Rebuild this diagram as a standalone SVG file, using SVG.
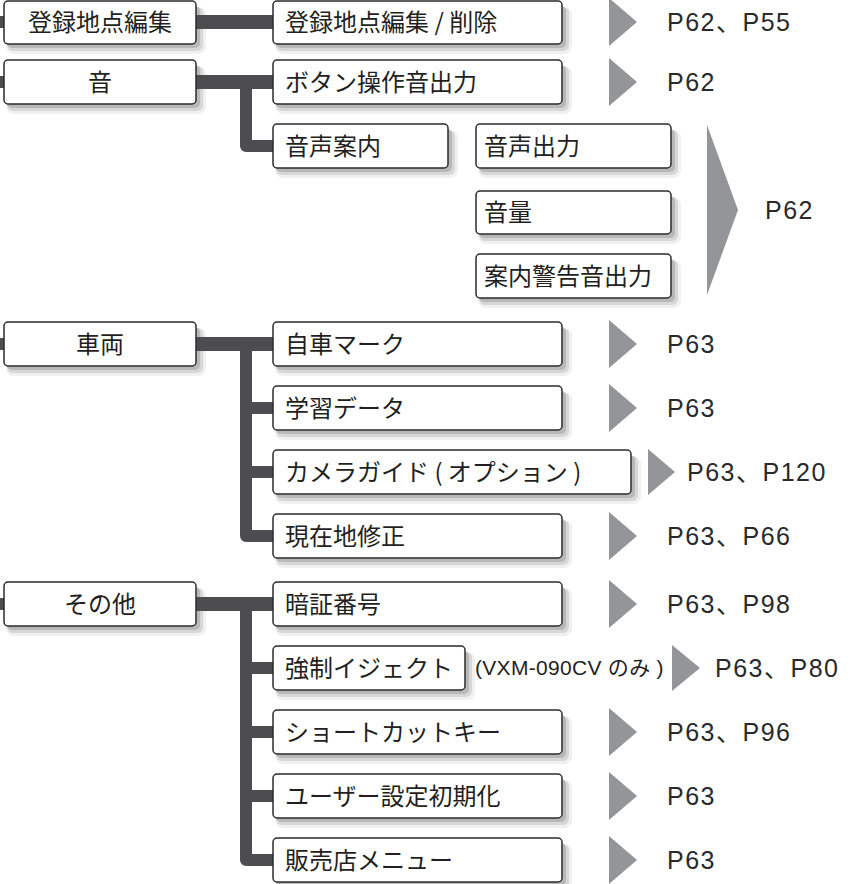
<svg xmlns="http://www.w3.org/2000/svg" width="848" height="884" viewBox="0 0 848 884">
<defs>
<style>
.box{fill:#fff;stroke:#2b2b2b;stroke-width:1.5}
.s1{fill:#000;opacity:0.14}
.s2{fill:#000;opacity:0.10}
.s3{fill:#000;opacity:0.06}
.lbl{font-family:"Noto Sans CJK JP","Noto Sans",sans-serif;font-size:24px;fill:#231f20}
.mid{text-anchor:middle}
.ref{font-family:"Liberation Sans","Noto Sans CJK JP",sans-serif;font-size:25px;letter-spacing:1.5px;fill:#2a2a2a}
.note{font-family:"Liberation Sans","Noto Sans CJK JP",sans-serif;font-size:21px;letter-spacing:0.3px;fill:#231f20}
.tri{fill:#939598}
.con{fill:none;stroke:#4d4d4f;stroke-linejoin:round;stroke-linecap:butt}
</style>
</defs>
<rect width="848" height="884" fill="#fff"/>

<g id="shadows">
<g transform="translate(4,1)"><rect class="s3" x="2" y="6" width="200" height="47" rx="8"/><rect class="s2" x="3" y="6" width="196" height="44" rx="6"/><rect class="s1" x="3" y="5" width="193" height="42" rx="5"/></g>
<g transform="translate(4,60)"><rect class="s3" x="2" y="6" width="200" height="48" rx="8"/><rect class="s2" x="3" y="6" width="196" height="45" rx="6"/><rect class="s1" x="3" y="5" width="193" height="43" rx="5"/></g>
<g transform="translate(4,322)"><rect class="s3" x="2" y="6" width="200" height="48" rx="8"/><rect class="s2" x="3" y="6" width="196" height="45" rx="6"/><rect class="s1" x="3" y="5" width="193" height="43" rx="5"/></g>
<g transform="translate(4,582)"><rect class="s3" x="2" y="6" width="200" height="48" rx="8"/><rect class="s2" x="3" y="6" width="196" height="45" rx="6"/><rect class="s1" x="3" y="5" width="193" height="43" rx="5"/></g>
<g transform="translate(273,1)"><rect class="s3" x="2" y="6" width="297" height="47" rx="8"/><rect class="s2" x="3" y="6" width="293" height="44" rx="6"/><rect class="s1" x="3" y="5" width="290" height="42" rx="5"/></g>
<g transform="translate(273,60)"><rect class="s3" x="2" y="6" width="297" height="48" rx="8"/><rect class="s2" x="3" y="6" width="293" height="45" rx="6"/><rect class="s1" x="3" y="5" width="290" height="43" rx="5"/></g>
<g transform="translate(273,124)"><rect class="s3" x="2" y="6" width="183" height="48" rx="8"/><rect class="s2" x="3" y="6" width="179" height="45" rx="6"/><rect class="s1" x="3" y="5" width="176" height="43" rx="5"/></g>
<g transform="translate(476,124)"><rect class="s3" x="2" y="6" width="203" height="48" rx="8"/><rect class="s2" x="3" y="6" width="199" height="45" rx="6"/><rect class="s1" x="3" y="5" width="196" height="43" rx="5"/></g>
<g transform="translate(476,191)"><rect class="s3" x="2" y="6" width="203" height="47" rx="8"/><rect class="s2" x="3" y="6" width="199" height="44" rx="6"/><rect class="s1" x="3" y="5" width="196" height="42" rx="5"/></g>
<g transform="translate(476,254)"><rect class="s3" x="2" y="6" width="203" height="48" rx="8"/><rect class="s2" x="3" y="6" width="199" height="45" rx="6"/><rect class="s1" x="3" y="5" width="196" height="43" rx="5"/></g>
<g transform="translate(273,322)"><rect class="s3" x="2" y="6" width="297" height="48" rx="8"/><rect class="s2" x="3" y="6" width="293" height="45" rx="6"/><rect class="s1" x="3" y="5" width="290" height="43" rx="5"/></g>
<g transform="translate(273,386)"><rect class="s3" x="2" y="6" width="297" height="48" rx="8"/><rect class="s2" x="3" y="6" width="293" height="45" rx="6"/><rect class="s1" x="3" y="5" width="290" height="43" rx="5"/></g>
<g transform="translate(273,450)"><rect class="s3" x="2" y="6" width="366" height="48" rx="8"/><rect class="s2" x="3" y="6" width="362" height="45" rx="6"/><rect class="s1" x="3" y="5" width="359" height="43" rx="5"/></g>
<g transform="translate(273,514)"><rect class="s3" x="2" y="6" width="297" height="48" rx="8"/><rect class="s2" x="3" y="6" width="293" height="45" rx="6"/><rect class="s1" x="3" y="5" width="290" height="43" rx="5"/></g>
<g transform="translate(273,582)"><rect class="s3" x="2" y="6" width="297" height="48" rx="8"/><rect class="s2" x="3" y="6" width="293" height="45" rx="6"/><rect class="s1" x="3" y="5" width="290" height="43" rx="5"/></g>
<g transform="translate(273,646)"><rect class="s3" x="2" y="6" width="200" height="48" rx="8"/><rect class="s2" x="3" y="6" width="196" height="45" rx="6"/><rect class="s1" x="3" y="5" width="193" height="43" rx="5"/></g>
<g transform="translate(273,710)"><rect class="s3" x="2" y="6" width="297" height="48" rx="8"/><rect class="s2" x="3" y="6" width="293" height="45" rx="6"/><rect class="s1" x="3" y="5" width="290" height="43" rx="5"/></g>
<g transform="translate(273,774)"><rect class="s3" x="2" y="6" width="297" height="48" rx="8"/><rect class="s2" x="3" y="6" width="293" height="45" rx="6"/><rect class="s1" x="3" y="5" width="290" height="43" rx="5"/></g>
<g transform="translate(273,838)"><rect class="s3" x="2" y="6" width="297" height="48" rx="8"/><rect class="s2" x="3" y="6" width="293" height="45" rx="6"/><rect class="s1" x="3" y="5" width="290" height="43" rx="5"/></g>
</g>

<g id="connectors">
<path class="con" stroke-width="12" d="M0,22 H6 M0,82 H6 M0,344 H6 M0,604 H6"/>
<path class="con" stroke-width="14" d="M196,22 H274 M196,82 H274 M196,344 H274 M196,604 H274"/>
<path class="con" stroke-width="12" d="M246,82 V146 H274"/>
<path class="con" stroke-width="12" d="M246,344 V536 H274 M246,408 H274 M246,472 H274"/>
<path class="con" stroke-width="12" d="M246,604 V860 H274 M246,668 H274 M246,732 H274 M246,796 H274"/>
</g>

<g id="n-touroku"><rect class="box" x="4" y="1" width="192" height="43" rx="4"/><text class="lbl mid" x="100" y="31">登録地点編集</text></g>
<g id="n-oto"><rect class="box" x="4" y="60" width="192" height="44" rx="4"/><text class="lbl mid" x="100" y="91">音</text></g>
<g id="n-sharyo"><rect class="box" x="4" y="322" width="192" height="44" rx="4"/><text class="lbl mid" x="100" y="353">車両</text></g>
<g id="n-sonota"><rect class="box" x="4" y="582" width="192" height="44" rx="4"/><text class="lbl mid" x="100" y="613">その他</text></g>

<g id="n-touroku-edit"><rect class="box" x="273" y="1" width="289" height="43" rx="4"/><text class="lbl" x="285" y="31">登録地点編集 / 削除</text></g>
<g id="n-button"><rect class="box" x="273" y="60" width="289" height="44" rx="4"/><text class="lbl" x="285" y="91">ボタン操作音出力</text></g>
<g id="n-onsei"><rect class="box" x="273" y="124" width="175" height="44" rx="4"/><text class="lbl" x="285" y="155">音声案内</text></g>
<g id="n-onsei-out"><rect class="box" x="476" y="124" width="195" height="44" rx="4"/><text class="lbl" x="484" y="155">音声出力</text></g>
<g id="n-volume"><rect class="box" x="476" y="191" width="195" height="43" rx="4"/><text class="lbl" x="484" y="221">音量</text></g>
<g id="n-warn"><rect class="box" x="476" y="254" width="195" height="44" rx="4"/><text class="lbl" x="484" y="285">案内警告音出力</text></g>

<g id="n-jisha"><rect class="box" x="273" y="322" width="289" height="44" rx="4"/><text class="lbl" x="285" y="353">自車マーク</text></g>
<g id="n-gakushu"><rect class="box" x="273" y="386" width="289" height="44" rx="4"/><text class="lbl" x="285" y="417">学習データ</text></g>
<g id="n-camera"><rect class="box" x="273" y="450" width="358" height="44" rx="4"/><text class="lbl" x="285" y="481">カメラガイド ( オプション )</text></g>
<g id="n-genzai"><rect class="box" x="273" y="514" width="289" height="44" rx="4"/><text class="lbl" x="285" y="545">現在地修正</text></g>

<g id="n-ansho"><rect class="box" x="273" y="582" width="289" height="44" rx="4"/><text class="lbl" x="285" y="613">暗証番号</text></g>
<g id="n-eject"><rect class="box" x="273" y="646" width="192" height="44" rx="4"/><text class="lbl" x="285" y="677">強制イジェクト</text></g>
<g id="n-shortcut"><rect class="box" x="273" y="710" width="289" height="44" rx="4"/><text class="lbl" x="285" y="741">ショートカットキー</text></g>
<g id="n-user"><rect class="box" x="273" y="774" width="289" height="44" rx="4"/><text class="lbl" x="285" y="805">ユーザー設定初期化</text></g>
<g id="n-hanbai"><rect class="box" x="273" y="838" width="289" height="44" rx="4"/><text class="lbl" x="285" y="869">販売店メニュー</text></g>

<g id="refs">
<polygon class="tri" points="609,-2 637,22 609,46"/><text class="ref" x="667" y="31">P62、P55</text>
<polygon class="tri" points="609,58 637,82 609,106"/><text class="ref" x="667" y="91">P62</text>
<polygon class="tri" points="707,125 738,210 707,295"/><text class="ref" x="765" y="219">P62</text>
<polygon class="tri" points="609,320 637,344 609,368"/><text class="ref" x="667" y="353">P63</text>
<polygon class="tri" points="609,384 637,408 609,432"/><text class="ref" x="667" y="417">P63</text>
<polygon class="tri" points="648,449 675,472 648,495"/><text class="ref" x="687" y="481">P63、P120</text>
<polygon class="tri" points="609,512 637,536 609,560"/><text class="ref" x="667" y="545">P63、P66</text>
<polygon class="tri" points="609,580 637,604 609,628"/><text class="ref" x="667" y="613">P63、P98</text>
<text class="note" x="475" y="675">(VXM-090CV のみ )</text>
<polygon class="tri" points="672,645 700,668 672,691"/><text class="ref" x="715" y="677">P63、P80</text>
<polygon class="tri" points="609,708 637,732 609,756"/><text class="ref" x="667" y="741">P63、P96</text>
<polygon class="tri" points="609,772 637,796 609,820"/><text class="ref" x="667" y="805">P63</text>
<polygon class="tri" points="609,836 637,860 609,884"/><text class="ref" x="667" y="869">P63</text>
</g>
</svg>
